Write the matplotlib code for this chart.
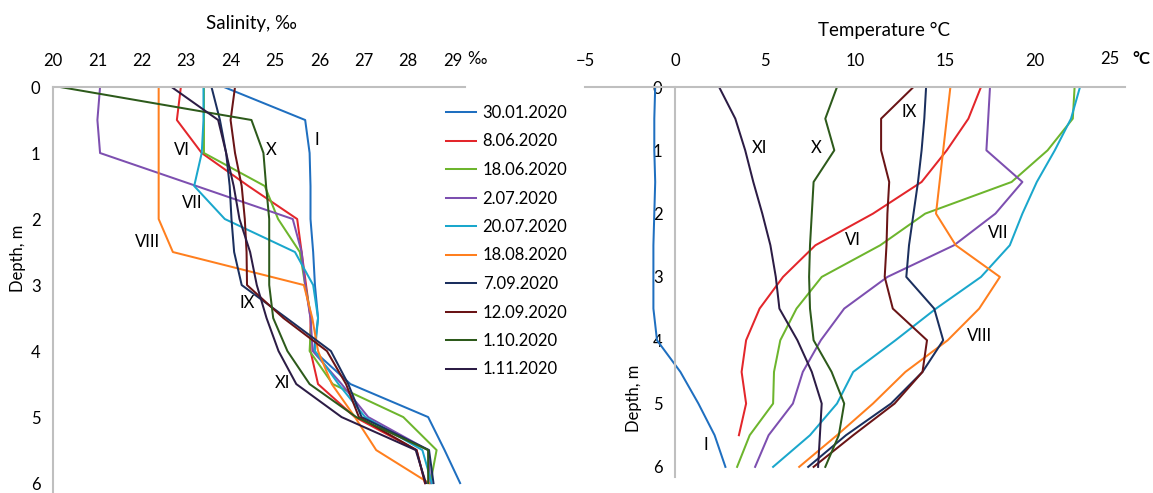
import numpy as np
import matplotlib
matplotlib.use('Agg')
import matplotlib.pyplot as plt

plt.rcParams['font.family'] = ['Lato', 'DejaVu Sans']

# Sampling depths, m
depth = [0, 0.5, 1, 1.5, 2, 2.5, 3, 3.5, 4, 4.5, 5, 5.5, 6]

dates = ['30.01.2020', '8.06.2020', '18.06.2020', '2.07.2020', '20.07.2020',
         '18.08.2020', '7.09.2020', '12.09.2020', '1.10.2020', '1.11.2020']
colors = ['#1f6fc0', '#e3262b', '#6db52d', '#7d4fb0', '#1aa7cc',
          '#ff7f1e', '#1b2f5e', '#6a1416', '#2d5a1b', '#2c1c45']

# Salinity profiles, per mille
sal_3001 = [23.85, 25.68, 25.78, 25.8, 25.8, 25.86, 25.9, 25.97, 25.88, 26.7, 28.45, 28.82, 29.17]
sal_0806 = [22.88, 22.79, 23.35, 24.4, 25.5, 25.6, 25.7, 25.8, 25.8, 25.97, 26.8, 28.19, 28.38]
sal_1806 = [23.4, 23.4, 23.4, 24.77, 25.07, 25.56, 25.68, 25.82, 25.78, 26.3, 27.89, 28.64, 28.5]
sal_0207 = [21.06, 21.0, 21.06, 23.23, 25.4, 25.6, 25.68, 25.8, 25.85, 26.5, 27.1, 28.45, 28.5]
sal_2007 = [23.39, 23.39, 23.35, 23.18, 23.87, 25.45, 25.86, 25.97, 25.9, 26.43, 27.03, 28.32, 28.53]
sal_1808 = [22.38, 22.38, 22.38, 22.38, 22.38, 22.7, 25.65, 25.84, 25.97, 26.28, 26.8, 27.28, 28.47]
sal_0709 = [23.57, 23.76, 23.9, 23.98, 24.02, 24.08, 24.25, 25.26, 26.26, 26.65, 26.95, 28.47, 28.57]
sal_1209 = [24.1, 24.0, 24.1, 24.25, 24.32, 24.36, 24.37, 25.19, 26.17, 26.6, 26.89, 28.19, 28.38]
sal_0110 = [20.16, 24.47, 24.74, 24.8, 24.87, 24.87, 24.87, 24.96, 25.28, 25.78, 26.83, 28.45, 28.45]
sal_0111 = [22.67, 23.72, 23.9, 24.07, 24.2, 24.44, 24.59, 24.81, 25.08, 25.48, 26.5, 28.17, 28.4]

# Temperature profiles, deg C (8.06 ends at 5.5 m)
tem_3001 = [-1.1, -1.15, -1.15, -1.1, -1.15, -1.2, -1.2, -1.2, -1.0, 0.3, 1.3, 2.2, 2.8]
tem_0806 = [17.0, 16.3, 15.1, 13.7, 11.0, 7.8, 6.0, 4.7, 3.95, 3.7, 3.95, 3.55]
tem_1806 = [22.2, 22.1, 20.7, 18.7, 13.9, 11.4, 8.15, 6.75, 5.85, 5.5, 5.45, 4.15, 3.45]
tem_0207 = [17.5, 17.4, 17.3, 19.3, 17.8, 15.5, 11.8, 9.4, 8.1, 7.1, 6.55, 5.2, 4.45]
tem_2007 = [22.5, 22.0, 21.1, 20.1, 19.3, 18.6, 17.0, 14.5, 12.25, 9.9, 9.0, 7.5, 5.45]
tem_1808 = [15.3, 15.1, 14.9, 14.7, 14.5, 15.6, 18.05, 16.9, 15.15, 12.8, 11.0, 9.0, 6.9]
tem_0709 = [13.95, 13.85, 13.7, 13.5, 13.25, 13.0, 12.85, 14.4, 14.9, 13.75, 12.0, 9.5, 7.4]
tem_1209 = [13.25, 11.45, 11.45, 11.9, 11.8, 11.75, 11.65, 12.1, 14.0, 13.75, 12.2, 9.9, 7.7]
tem_0110 = [9.0, 8.35, 8.85, 7.7, 7.6, 7.5, 7.45, 7.5, 7.7, 8.7, 9.4, 9.1, 8.35]
tem_0111 = [2.45, 3.35, 3.9, 4.35, 4.85, 5.3, 5.6, 5.8, 6.8, 7.6, 8.15, 8.05, 7.95]

salinity = [sal_3001, sal_0806, sal_1806, sal_0207, sal_2007,
            sal_1808, sal_0709, sal_1209, sal_0110, sal_0111]
temperature = [tem_3001, tem_0806, tem_1806, tem_0207, tem_2007,
               tem_1808, tem_0709, tem_1209, tem_0110, tem_0111]

# Month labels next to the profiles
sal_marks = [('I', 25.95, 0.8), ('VI', 22.9, 0.95), ('X', 24.91, 0.95),
             ('VII', 23.13, 1.76), ('VIII', 22.14, 2.35), ('IX', 24.37, 3.27),
             ('XI', 25.18, 4.48)]
tem_marks = [('IX', 13.0, 0.4), ('XI', 4.67, 0.96), ('X', 7.87, 0.96),
             ('VI', 9.9, 2.41), ('VII', 17.96, 2.3), ('VIII', 16.94, 3.94),
             ('I', 1.7, 5.66)]

sal_ticks = list(range(20, 30))
tem_ticks = list(range(-5, 30, 5))
depth_ticks = list(range(0, 7))

W, H = 1153, 493
GRID = '#bfbfbf'
FS = 12

fig = plt.figure(figsize=(W / 100, H / 100), dpi=100)

# ---- salinity panel ----
ax1 = fig.add_axes([53 / W, 0, (465 - 53) / W, (493 - 87) / H])
for s, c, lab in zip(salinity, colors, dates):
    ax1.plot(s, depth[:len(s)], color=c, lw=1.45, label=lab)
ax1.set_xlim(20, 29.28)
ax1.set_ylim(6.15, 0)
ax1.xaxis.tick_top()
ax1.set_xticks(sal_ticks)
ax1.set_yticks(depth_ticks)
ax1.tick_params(axis='x', length=0, pad=13, labelsize=FS)
ax1.tick_params(axis='y', length=0, pad=9, labelsize=FS)
for side in ['right', 'bottom']:
    ax1.spines[side].set_visible(False)
for side in ['top', 'left']:
    ax1.spines[side].set_color(GRID)
    ax1.spines[side].set_linewidth(1.5)
for txt, x, y in sal_marks:
    ax1.text(x, y, txt, fontsize=FS, ha='center', va='center')

# ---- temperature panel ----
ax2 = fig.add_axes([585 / W, 1 - 477 / H, 540 / W, 390 / H])
for t, c in zip(temperature, colors):
    ax2.plot(t, depth[:len(t)], color=c, lw=1.45)
ax2.set_xlim(-5, 25)
ax2.set_ylim(6.16, 0)
ax2.xaxis.tick_top()
ax2.set_xticks(tem_ticks)
# last label carries the unit, drawn separately below
ax2.set_xticklabels(['\u22125'] + [str(v) for v in tem_ticks[1:-1]] + [''])
ax2.set_yticks(depth_ticks)
ax2.spines['left'].set_position(('data', 0))
ax2.tick_params(axis='x', length=0, pad=13, labelsize=FS)
ax2.tick_params(axis='y', length=0, pad=9, labelsize=FS)
for side in ['right', 'bottom']:
    ax2.spines[side].set_visible(False)
for side in ['top', 'left']:
    ax2.spines[side].set_color(GRID)
    ax2.spines[side].set_linewidth(1.5)
for txt, x, y in tem_marks:
    ax2.text(x, y, txt, fontsize=FS, ha='center', va='center')

# titles and units
fig.text(251 / W, 1 - 23 / H, 'Salinity, ‰', fontsize=13.5, ha='center', va='center')
fig.text(884 / W, 1 - 30 / H, 'Temperature °C', fontsize=13.5, ha='center', va='center')
fig.text(477 / W, 1 - 59 / H, '‰', fontsize=FS, ha='center', va='center')
fig.text(1110 / W, 1 - 59 / H, '25', fontsize=FS, ha='center', va='center')
fig.text(1141 / W, 1 - 59 / H, '°C', fontsize=FS, fontweight='bold', ha='center', va='center')
fig.text(18 / W, 1 - 258 / H, 'Depth, m', fontsize=FS, rotation=90, ha='center', va='center')
fig.text(634 / W, 1 - 398 / H, 'Depth, m', fontsize=FS, rotation=90, ha='center', va='center')

fig.legend(loc='upper left', bbox_to_anchor=(446 / W, 1 - 105 / H), frameon=False,
           fontsize=FS, handlelength=1.8, handletextpad=0.4, labelspacing=0.75,
           borderpad=0, borderaxespad=0)

fig.savefig('out.png', dpi=100)
